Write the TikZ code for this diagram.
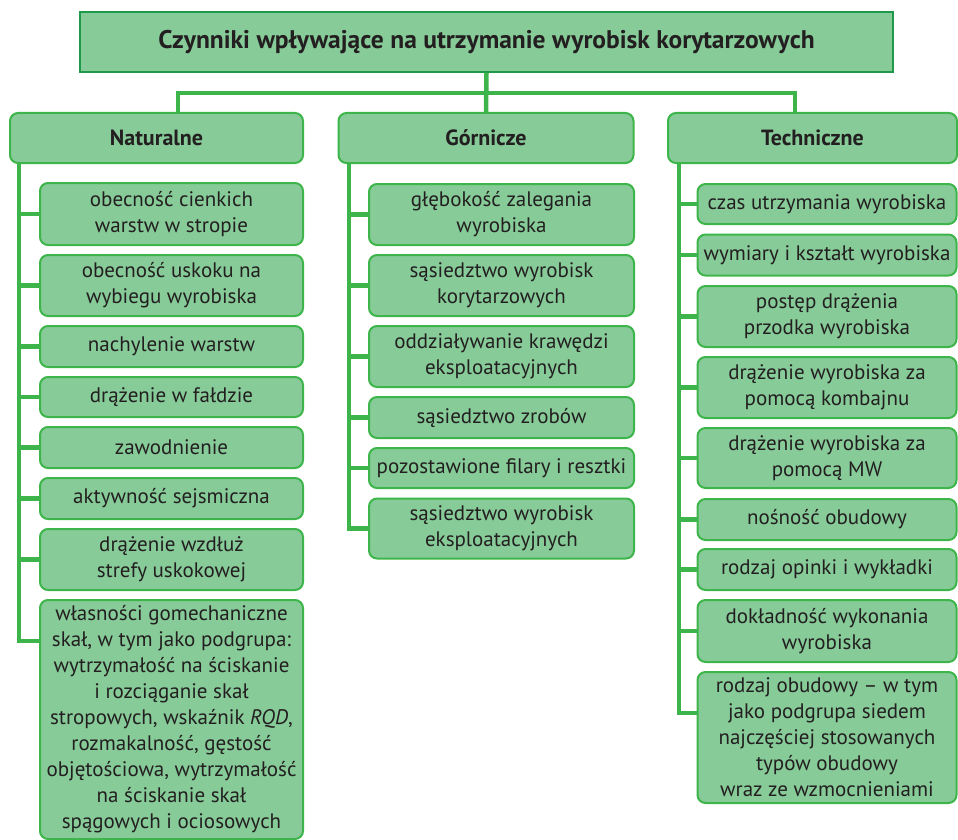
\documentclass[tikz,border=0pt]{standalone}
\usepackage{fontspec}
\setmainfont{PT Sans}
\definecolor{boxfill}{HTML}{86CB98}
\definecolor{boxedge}{HTML}{3DB54A}
\definecolor{titleedge}{HTML}{1E9A4A}
\definecolor{ink}{HTML}{231F20}

\begin{document}
\begin{tikzpicture}[x=1pt, y=-1pt,
		title/.style={draw=titleedge, fill=boxfill, line width=1.5pt, minimum width=813, minimum height=60, inner sep=0pt, text=ink, font=\bfseries\fontsize{25.5}{30}\selectfont},
		group/.style={draw=boxedge, fill=boxfill, line width=2pt, rounded corners=8pt, minimum height=50, inner sep=0pt, text=ink, font=\bfseries\fontsize{22}{26}\selectfont},
		factor/.style={draw=boxedge, fill=boxfill, line width=2pt, rounded corners=8pt, inner sep=0pt, align=center, text=ink, font=\fontsize{21}{26}\selectfont},
		link/.style={boxedge, line width=4.5pt}]
		\useasboundingbox (0,0) rectangle (958,840);
		% naglowek i trzy grupy
		\node[title] (top) at (486.5,42) {Czynniki wpływające na utrzymanie wyrobisk korytarzowych};
		\node[group, minimum width=293] (nat) at (156.5,138) {Naturalne};
		\node[group, minimum width=295] (gor) at (486,138) {Górnicze};
		\node[group, minimum width=289] (tec) at (812.5,138) {Techniczne};
		\coordinate (natjoin) at (178,93);
		\coordinate (tecjoin) at (795,93);
		\draw[link] (top.south) -- (gor.north);
		\draw[link] (nat.north -| natjoin) -- (natjoin) -- (tecjoin) -- (tec.north -| tecjoin);
		% naturalne
		\foreach \i/\y/\h/\txt in {1/214/62/{obecność cienkich\\warstw w stropie},
		    2/285.5/61/{obecność uskoku na\\wybiegu wyrobiska},
		    3/346.5/41/{nachylenie warstw},
		    4/397/40/{drążenie w fałdzie},
		    5/447.5/41/{zawodnienie},
		    6/498.5/41/{aktywność sejsmiczna},
		    7/559.5/61/{drążenie wzdłuż\\strefy uskokowej},
		    8/719.5/239/{własności gomechaniczne\\skał, w tym jako podgrupa:\\wytrzymałość na ściskanie\\i rozciąganie skał\\stropowych, wskaźnik \textit{RQD},\\rozmakalność, gęstość\\objętościowa, wytrzymałość\\na ściskanie skał\\spągowych i ociosowych}}{
		  \node[factor, minimum width=263, minimum height=\h] (nat-\i) at (171.5,\y) {\txt};
		}
		\coordinate (natspine) at (19,641);
		\draw[link] (nat.south -| natspine) -- (natspine) -- (natspine -| nat-8.west);
		\foreach \i in {1,...,7}{
		  \draw[link] (nat-\i.west -| natspine) -- (nat-\i.west);
		}
		% gornicze
		\foreach \i/\y/\h/\txt in {1/214.5/61/{głębokość zalegania\\wyrobiska},
		    2/285.5/61/{sąsiedztwo wyrobisk\\korytarzowych},
		    3/356.5/61/{oddziaływanie krawędzi\\eksploatacyjnych},
		    4/417.5/41/{sąsiedztwo zrobów},
		    5/468/40/{pozostawione filary i resztki},
		    6/528.5/60/{sąsiedztwo wyrobisk\\eksploatacyjnych}}{
		  \node[factor, minimum width=265, minimum height=\h] (gor-\i) at (501.5,\y) {\txt};
		}
		\coordinate (gorspine) at (349,0);
		\draw[link] (gor.south -| gorspine) -- (gor-6.west -| gorspine) -- (gor-6.west);
		\foreach \i in {1,...,5}{
		  \draw[link] (gor-\i.west -| gorspine) -- (gor-\i.west);
		}
		% techniczne
		\foreach \i/\y/\h/\txt in {1/204/40/{czas utrzymania wyrobiska},
		    2/255/41/{wymiary i kształt wyrobiska},
		    3/316.5/61/{postęp drążenia\\przodka wyrobiska},
		    4/387.5/61/{drążenie wyrobiska za\\pomocą kombajnu},
		    5/458/60/{drążenie wyrobiska za\\pomocą MW},
		    6/519.5/41/{nośność obudowy},
		    7/569.5/41/{rodzaj opinki i wykładki},
		    8/631/62/{dokładność wykonania\\wyrobiska},
		    9/737.5/131/{rodzaj obudowy – w tym\\jako podgrupa siedem\\najczęściej stosowanych\\typów obudowy\\wraz ze wzmocnieniami}}{
		  \node[factor, minimum width=259, minimum height=\h] (tec-\i) at (827,\y) {\txt};
		}
		\coordinate (tecspine) at (679,713);
		\draw[link] (tec.south -| tecspine) -- (tecspine) -- (tecspine -| tec-9.west);
		\foreach \i in {1,...,8}{
		  \draw[link] (tec-\i.west -| tecspine) -- (tec-\i.west);
		}
	\end{tikzpicture}
\end{document}
